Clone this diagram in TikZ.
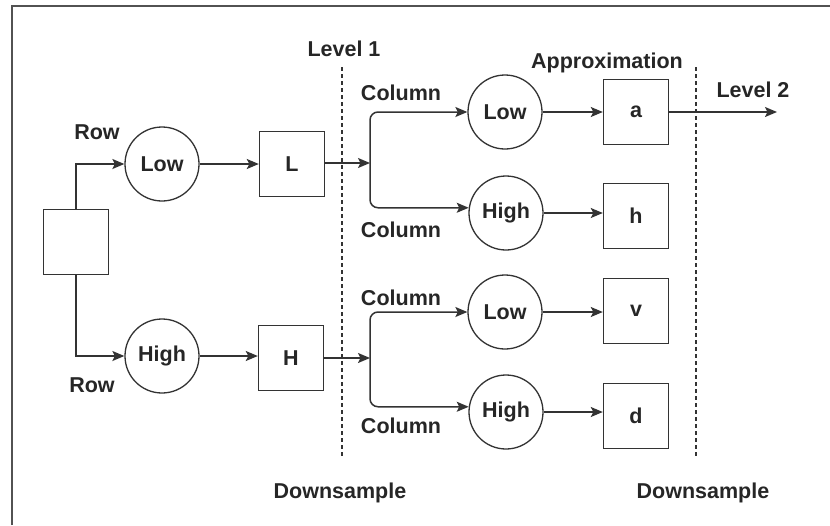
\documentclass[tikz,border=0pt]{standalone}
\usepackage{fontspec}
\setmainfont{Liberation Sans}
\usetikzlibrary{arrows.meta,calc}
\definecolor{ln}{HTML}{333333}
\definecolor{tx}{HTML}{262626}
\begin{document}
\begin{tikzpicture}[x=1pt,y=-1pt,
  every node/.style={font=\fontsize{21.5}{26}\selectfont\bfseries, text=tx},
  box/.style={draw=ln, line width=1.4pt, minimum width=65pt, minimum height=65pt, inner sep=0pt},
  filt/.style={draw=ln, circle, line width=1.3pt, minimum size=74pt, inner sep=0pt},
  lbl/.style={anchor=base, inner sep=0pt},
  conn/.style={draw=ln, line width=1.5pt, -{Stealth[length=12pt,width=10pt,inset=2.5pt]}},
  divider/.style={draw=ln, line width=1.2pt, dash pattern=on 4pt off 3pt}]
\useasboundingbox (0,0) rectangle (830,525);
\draw[draw=ln!85, line width=1.3pt] (12,525) -- (12,6) -- (830,6);

% nodes
\node[box] (in) at (76,242) {};
\node[filt] (rlow) at (162,164) {Low};
\node[filt] (rhigh) at (162,356) {High};
\node[box] (L) at (292,164) {L};
\node[box] (H) at (291,358) {H};
\coordinate (b1) at (370,163);
\coordinate (b2) at (370,358);
\node[filt] (clowa) at (505,112) {Low};
\node[filt] (chigha) at (506,213) {High};
\node[filt] (clowb) at (505,312) {Low};
\node[filt] (chighb) at (506,412) {High};
\node[box] (a) at (636,112) {a};
\node[box] (h) at (636,216) {h};
\node[box] (v) at (636,311) {v};
\node[box] (d) at (636,416) {d};
\coordinate (out) at (777,112);
\coordinate (d1t) at (342,67);
\coordinate (d1b) at (342,456);
\coordinate (d2t) at (696,67);
\coordinate (d2b) at (696,456);

% dividers
\draw[divider] (d1t) -- (d1b);
\draw[divider] (d2t) -- (d2b);

% connectors
\draw[conn] (in.north) |- (rlow.west);
\draw[conn] (in.south) |- (rhigh.west);
\draw[conn] (rlow) -- (L);
\draw[conn] (rhigh.east) -- (rhigh.east -| H.west);
\draw[conn] (L.east |- b1) -- (b1);
\draw[conn] (H.east |- b2) -- (b2);
\draw[conn, rounded corners=8pt] (b1) |- (clowa.west);
\draw[conn, rounded corners=8pt] (b1) |- (chigha.172);
\draw[conn, rounded corners=8pt] (b2) |- (clowb.west);
\draw[conn, rounded corners=8pt] (b2) |- (chighb.172);
\draw[conn] (clowa) -- (a);
\draw[conn] (chigha.east) -- (chigha.east -| h.west);
\draw[conn] (clowb.east) -- (clowb.east -| v.west);
\draw[conn] (chighb.east) -- (chighb.east -| d.west);
\draw[conn] (a.east) -- (out);

% labels
\node[lbl] (t1) at (344,56) {Level 1};
\node[lbl] (t2) at (607,68) {Approximation};
\node[lbl] (t3) at (753,97) {Level 2};
\node[lbl] (t4) at (97,139) {Row};
\node[lbl] (t5) at (92,392) {Row};
\node[lbl] (t6) at (401,100) {Column};
\node[lbl] (t7) at (401,237) {Column};
\node[lbl] (t8) at (401,305) {Column};
\node[lbl] (t9) at (401,433) {Column};
\node[lbl] (t10) at (340,498) {Downsample};
\node[lbl] (t11) at (703,498) {Downsample};
\end{tikzpicture}
\end{document}
